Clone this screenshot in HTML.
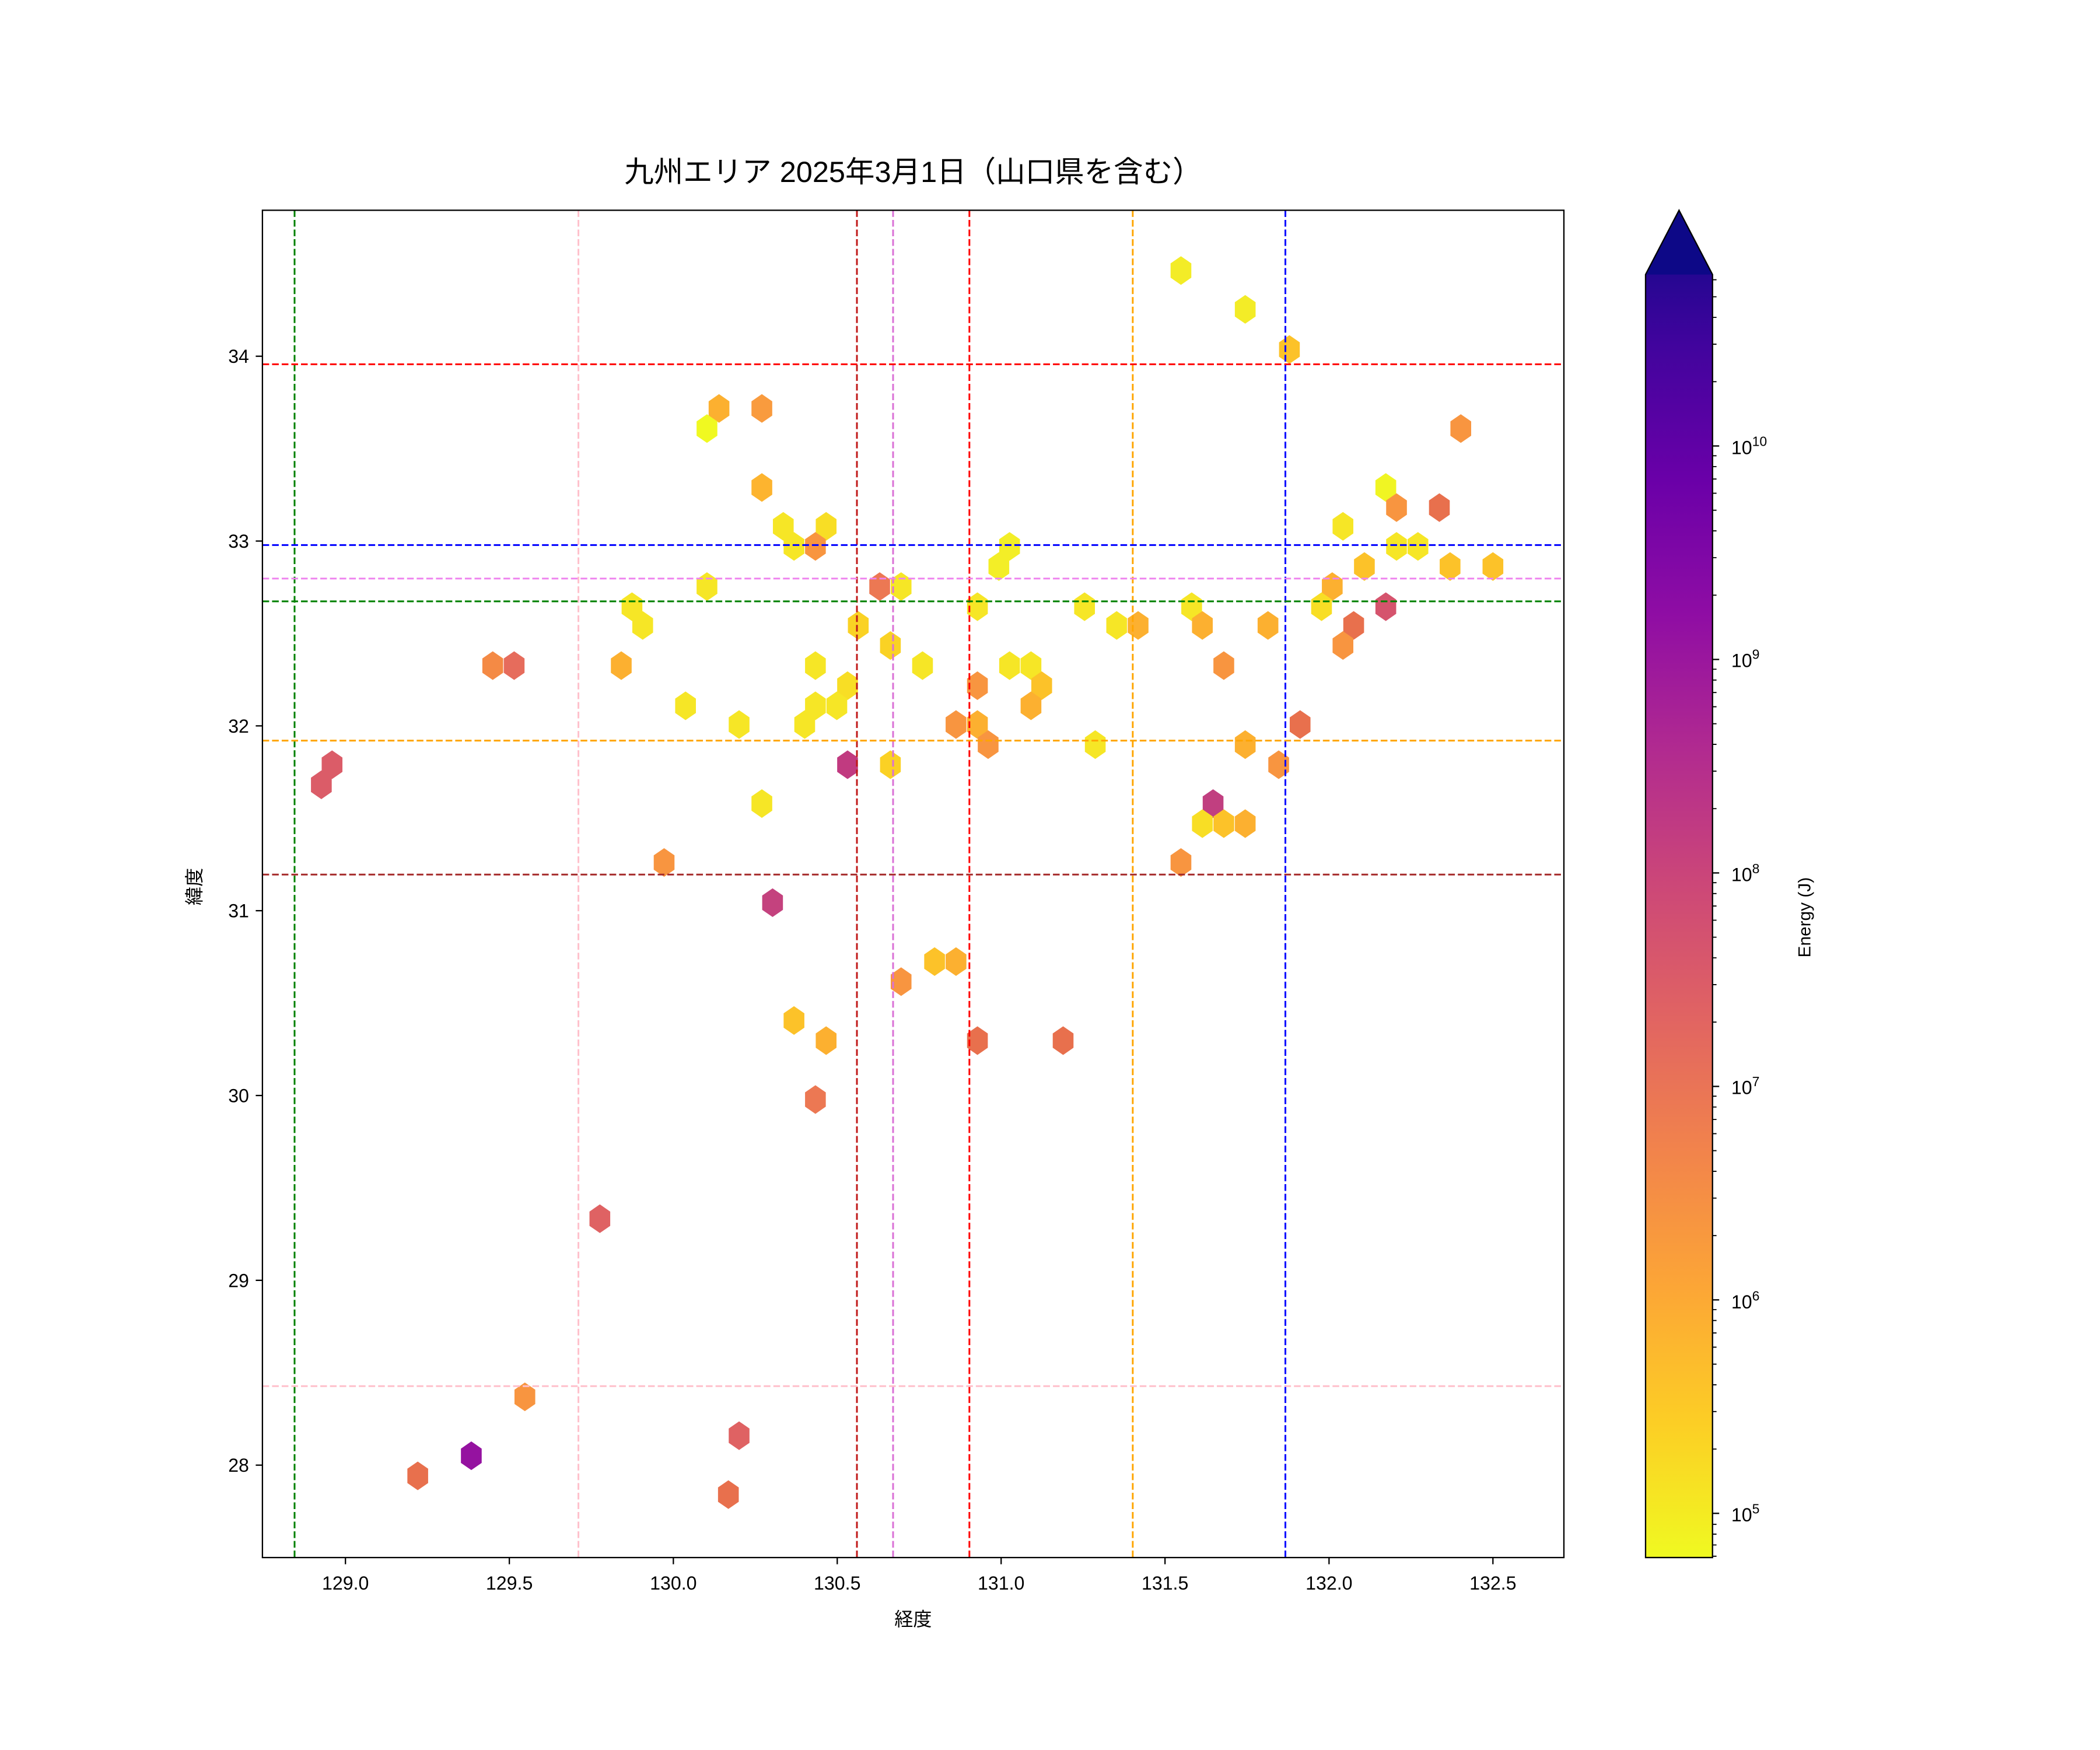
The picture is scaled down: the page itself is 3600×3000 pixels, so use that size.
<!DOCTYPE html>
<html><head><meta charset="utf-8"><style>html,body{margin:0;padding:0;background:#fff;width:3600px;height:3000px;overflow:hidden}svg{display:block}</style></head>
<body>
<svg xmlns="http://www.w3.org/2000/svg" width="3600" height="3000" viewBox="0 0 1568.4 1306.7" preserveAspectRatio="none" font-family="'Liberation Sans','Noto Sans CJK JP',sans-serif">
<defs>
<polygon id="h" points="0,-10.7 7.75,-5.35 7.75,5.35 0,10.7 -7.75,5.35 -7.75,-5.35"/>
<linearGradient id="pl" x1="0" y1="1" x2="0" y2="0">
<stop offset="0" stop-color="#f0f921"/><stop offset="0.1" stop-color="#fcce25"/><stop offset="0.2" stop-color="#fca636"/><stop offset="0.3" stop-color="#f2844b"/><stop offset="0.4" stop-color="#e16462"/><stop offset="0.5" stop-color="#cc4778"/><stop offset="0.6" stop-color="#b12a90"/><stop offset="0.7" stop-color="#8f0da4"/><stop offset="0.8" stop-color="#6a00a8"/><stop offset="0.9" stop-color="#41049d"/><stop offset="1" stop-color="#0d0887"/>
</linearGradient>
</defs>
<rect width="1568.4" height="1306.7" fill="#fff"/>
<text x="682" y="136" font-size="22" text-anchor="middle">九州エリア 2025年3月1日（山口県を含む）</text>

<g>
<use href="#h" x="882" y="202" fill="#f3ec27"/>
<use href="#h" x="930" y="231" fill="#f3ec27"/>
<use href="#h" x="963" y="261" fill="#fcc229"/>
<use href="#h" x="1091" y="320" fill="#f89540"/>
<use href="#h" x="537" y="305" fill="#fcb030"/>
<use href="#h" x="569" y="305" fill="#f99b3e"/>
<use href="#h" x="528" y="320" fill="#f0f921"/>
<use href="#h" x="569" y="364" fill="#fdb42f"/>
<use href="#h" x="1035" y="364" fill="#f0f523"/>
<use href="#h" x="1043" y="379" fill="#f89540"/>
<use href="#h" x="1075" y="379" fill="#e8704d"/>
<use href="#h" x="585" y="393" fill="#f6e626"/>
<use href="#h" x="617" y="393" fill="#f8de25"/>
<use href="#h" x="1003" y="393" fill="#f6e626"/>
<use href="#h" x="593" y="408" fill="#f6e626"/>
<use href="#h" x="609" y="408" fill="#f89540"/>
<use href="#h" x="754" y="408" fill="#f3ee27"/>
<use href="#h" x="1043" y="408" fill="#f6e626"/>
<use href="#h" x="1059" y="408" fill="#f6e626"/>
<use href="#h" x="746" y="423" fill="#f3ee27"/>
<use href="#h" x="1019" y="423" fill="#fcc229"/>
<use href="#h" x="1083" y="423" fill="#fcc229"/>
<use href="#h" x="1115" y="423" fill="#fcc229"/>
<use href="#h" x="528" y="438" fill="#f6e626"/>
<use href="#h" x="657" y="438" fill="#ec7853"/>
<use href="#h" x="673" y="438" fill="#f6e626"/>
<use href="#h" x="995" y="438" fill="#fcb030"/>
<use href="#h" x="472" y="453" fill="#f6e626"/>
<use href="#h" x="730" y="453" fill="#f6e626"/>
<use href="#h" x="810" y="453" fill="#f6e626"/>
<use href="#h" x="890" y="453" fill="#f6e626"/>
<use href="#h" x="987" y="453" fill="#f8de25"/>
<use href="#h" x="1035" y="453" fill="#d5546d"/>
<use href="#h" x="480" y="467" fill="#f6e626"/>
<use href="#h" x="641" y="467" fill="#fad224"/>
<use href="#h" x="834" y="467" fill="#f6e626"/>
<use href="#h" x="850" y="467" fill="#fcb030"/>
<use href="#h" x="898" y="467" fill="#fcb030"/>
<use href="#h" x="947" y="467" fill="#fcb030"/>
<use href="#h" x="1011" y="467" fill="#e8704d"/>
<use href="#h" x="665" y="482" fill="#fad224"/>
<use href="#h" x="1003" y="482" fill="#f89540"/>
<use href="#h" x="368" y="497" fill="#f48a45"/>
<use href="#h" x="384" y="497" fill="#e66c5c"/>
<use href="#h" x="464" y="497" fill="#fcb030"/>
<use href="#h" x="609" y="497" fill="#f6e626"/>
<use href="#h" x="689" y="497" fill="#f6e626"/>
<use href="#h" x="754" y="497" fill="#f6e626"/>
<use href="#h" x="770" y="497" fill="#f6e626"/>
<use href="#h" x="914" y="497" fill="#f89540"/>
<use href="#h" x="633" y="512" fill="#f8de25"/>
<use href="#h" x="730" y="512" fill="#f89540"/>
<use href="#h" x="778" y="512" fill="#fcc229"/>
<use href="#h" x="512" y="527" fill="#f6e626"/>
<use href="#h" x="609" y="527" fill="#f6e626"/>
<use href="#h" x="625" y="527" fill="#f6e626"/>
<use href="#h" x="770" y="527" fill="#fcb030"/>
<use href="#h" x="552" y="541" fill="#f6e626"/>
<use href="#h" x="601" y="541" fill="#f6e626"/>
<use href="#h" x="714" y="541" fill="#f89540"/>
<use href="#h" x="730" y="541" fill="#fcb030"/>
<use href="#h" x="971" y="541" fill="#e8704d"/>
<use href="#h" x="738" y="556" fill="#f89540"/>
<use href="#h" x="818" y="556" fill="#f6e626"/>
<use href="#h" x="930" y="556" fill="#fcb030"/>
<use href="#h" x="248" y="571" fill="#db5c68"/>
<use href="#h" x="633" y="571" fill="#c13a80"/>
<use href="#h" x="665" y="571" fill="#fbd124"/>
<use href="#h" x="955" y="571" fill="#f89540"/>
<use href="#h" x="240" y="586" fill="#db5c68"/>
<use href="#h" x="569" y="600" fill="#f6e626"/>
<use href="#h" x="906" y="600" fill="#c13f80"/>
<use href="#h" x="898" y="615" fill="#f8de25"/>
<use href="#h" x="914" y="615" fill="#fcc229"/>
<use href="#h" x="930" y="615" fill="#fcb030"/>
<use href="#h" x="496" y="644" fill="#f89540"/>
<use href="#h" x="882" y="644" fill="#f89540"/>
<use href="#h" x="577" y="674" fill="#c4427e"/>
<use href="#h" x="698" y="718" fill="#fcc229"/>
<use href="#h" x="714" y="718" fill="#fcb030"/>
<use href="#h" x="673" y="733" fill="#f89540"/>
<use href="#h" x="593" y="762" fill="#fcc229"/>
<use href="#h" x="617" y="777" fill="#fcb030"/>
<use href="#h" x="730" y="777" fill="#e8704d"/>
<use href="#h" x="794" y="777" fill="#e8704d"/>
<use href="#h" x="609" y="821" fill="#ec7853"/>
<use href="#h" x="448" y="910" fill="#df6263"/>
<use href="#h" x="392" y="1043" fill="#f89540"/>
<use href="#h" x="552" y="1072" fill="#df6263"/>
<use href="#h" x="352" y="1087" fill="#9512a0"/>
<use href="#h" x="312" y="1102" fill="#e8704d"/>
<use href="#h" x="544" y="1116" fill="#e8704d"/>
</g>

<g stroke-width="1.3" stroke-dasharray="5,2.2" fill="none">
<line x1="220" y1="157" x2="220" y2="1163" stroke="#008000"/>
<line x1="432" y1="157" x2="432" y2="1163" stroke="#ffc0cb"/>
<line x1="640" y1="157" x2="640" y2="1163" stroke="#c01818"/>
<line x1="667" y1="157" x2="667" y2="1163" stroke="#da70d6"/>
<line x1="724" y1="157" x2="724" y2="1163" stroke="#ff0000"/>
<line x1="846" y1="157" x2="846" y2="1163" stroke="#ffa500"/>
<line x1="960" y1="157" x2="960" y2="1163" stroke="#0000ff"/>
<line x1="196" y1="272" x2="1168" y2="272" stroke="#ff0000"/>
<line x1="196" y1="407" x2="1168" y2="407" stroke="#0000ff"/>
<line x1="196" y1="432" x2="1168" y2="432" stroke="#ee82ee"/>
<line x1="196" y1="449" x2="1168" y2="449" stroke="#008000"/>
<line x1="196" y1="553" x2="1168" y2="553" stroke="#ffa500"/>
<line x1="196" y1="653" x2="1168" y2="653" stroke="#a52a2a"/>
<line x1="196" y1="1035" x2="1168" y2="1035" stroke="#ffc0cb"/>
</g>

<rect x="196" y="157" width="972" height="1006" fill="none" stroke="#000" stroke-width="1"/>
<g stroke="#000" stroke-width="1">
<line x1="258" y1="1163" x2="258" y2="1168"/><line x1="380.4" y1="1163" x2="380.4" y2="1168"/><line x1="502.9" y1="1163" x2="502.9" y2="1168"/><line x1="625.3" y1="1163" x2="625.3" y2="1168"/><line x1="747.7" y1="1163" x2="747.7" y2="1168"/><line x1="870.1" y1="1163" x2="870.1" y2="1168"/><line x1="992.6" y1="1163" x2="992.6" y2="1168"/><line x1="1115" y1="1163" x2="1115" y2="1168"/>
<line x1="191" y1="266" x2="196" y2="266"/><line x1="191" y1="404" x2="196" y2="404"/><line x1="191" y1="542" x2="196" y2="542"/><line x1="191" y1="680" x2="196" y2="680"/><line x1="191" y1="818" x2="196" y2="818"/><line x1="191" y1="956" x2="196" y2="956"/><line x1="191" y1="1094" x2="196" y2="1094"/>
</g>
<g font-size="14" text-anchor="middle">
<text x="258" y="1187">129.0</text><text x="380.4" y="1187">129.5</text><text x="502.9" y="1187">130.0</text><text x="625.3" y="1187">130.5</text><text x="747.7" y="1187">131.0</text><text x="870.1" y="1187">131.5</text><text x="992.6" y="1187">132.0</text><text x="1115" y="1187">132.5</text>
</g>
<g font-size="14" text-anchor="end">
<text x="186" y="271">34</text><text x="186" y="409">33</text><text x="186" y="547">32</text><text x="186" y="685">31</text><text x="186" y="823">30</text><text x="186" y="961">29</text><text x="186" y="1099">28</text>
</g>
<text x="682" y="1214" font-size="14" text-anchor="middle">経度</text>
<text transform="translate(150,662) rotate(-90)" font-size="14" text-anchor="middle">緯度</text>

<path d="M1229,1163 L1229,205 L1254,157 L1279,205 L1279,1163 Z" fill="url(#pl)"/>
<path d="M1229,205 L1254,157 L1279,205 Z" fill="#0d0887"/>
<path d="M1229,1163 L1229,205 L1254,157 L1279,205 L1279,1163 Z" fill="none" stroke="#000" stroke-width="1"/>
<g stroke="#000" stroke-width="1">
<line x1="1279" y1="1130" x2="1284" y2="1130"/><line x1="1279" y1="970.6" x2="1284" y2="970.6"/><line x1="1279" y1="811.2" x2="1284" y2="811.2"/><line x1="1279" y1="651.8" x2="1284" y2="651.8"/><line x1="1279" y1="492.4" x2="1284" y2="492.4"/><line x1="1279" y1="333" x2="1284" y2="333"/>
</g>
<g stroke="#000" stroke-width="0.8">
<path d="M1279,1162H1282M1279,1153.6H1282M1279,1145.5H1282M1279,1138.2H1282M1279,1082H1282M1279,1054H1282M1279,1034H1282M1279,1018.6H1282M1279,1005.9H1282M1279,995.3H1282M1279,986H1282M1279,977.9H1282"/>
<path d="M1279,922.6H1282M1279,894.6H1282M1279,874.6H1282M1279,859.2H1282M1279,846.5H1282M1279,835.9H1282M1279,826.6H1282M1279,818.5H1282"/>
<path d="M1279,763.2H1282M1279,735.2H1282M1279,715.2H1282M1279,699.8H1282M1279,687.1H1282M1279,676.5H1282M1279,667.2H1282M1279,659.1H1282"/>
<path d="M1279,603.8H1282M1279,575.8H1282M1279,555.8H1282M1279,540.4H1282M1279,527.7H1282M1279,517.1H1282M1279,507.8H1282M1279,499.7H1282"/>
<path d="M1279,444.4H1282M1279,416.4H1282M1279,396.4H1282M1279,381H1282M1279,368.3H1282M1279,357.7H1282M1279,348.4H1282M1279,340.3H1282"/>
<path d="M1279,285H1282M1279,257H1282M1279,237H1282M1279,221.6H1282M1279,208.9H1282"/>
</g>
<g font-size="14">
<text x="1293" y="1136">10<tspan font-size="10" dy="-6">5</tspan></text>
<text x="1293" y="977">10<tspan font-size="10" dy="-6">6</tspan></text>
<text x="1293" y="817">10<tspan font-size="10" dy="-6">7</tspan></text>
<text x="1293" y="658">10<tspan font-size="10" dy="-6">8</tspan></text>
<text x="1293" y="498">10<tspan font-size="10" dy="-6">9</tspan></text>
<text x="1293" y="339">10<tspan font-size="10" dy="-6">10</tspan></text>
</g>
<text transform="translate(1352,685) rotate(-90)" font-size="13" text-anchor="middle">Energy (J)</text>
</svg>
</body></html>
